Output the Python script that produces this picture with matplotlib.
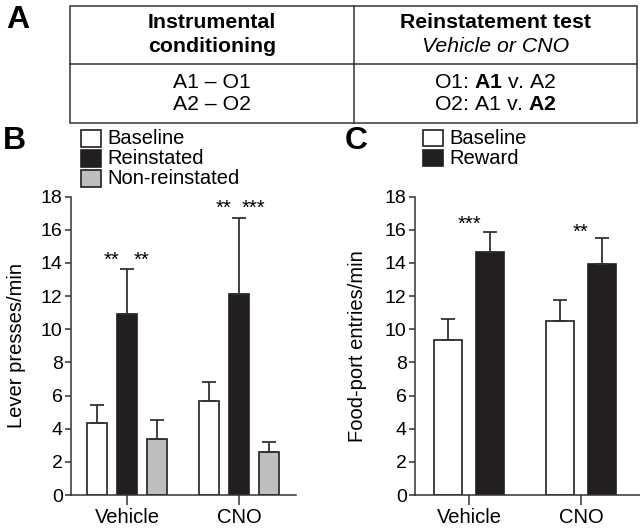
import numpy as np
import matplotlib
matplotlib.use("Agg")
import matplotlib.pyplot as plt
from matplotlib.patches import Rectangle

plt.rcParams['font.family'] = ['Liberation Sans', 'DejaVu Sans']
plt.rcParams['mathtext.fontset'] = 'custom'
plt.rcParams['mathtext.rm'] = 'Liberation Sans'
plt.rcParams['mathtext.bf'] = 'Liberation Sans:bold'

# ---- data ----
groups = ['Vehicle', 'CNO']

b_series = ['Baseline', 'Reinstated', 'Non-reinstated']
b_means = [[4.32, 5.68], [10.94, 12.13], [3.39, 2.57]]
b_sem = [[1.14, 1.11], [2.71, 4.60], [1.13, 0.64]]
b_stars = [('**', 0, -0.134, 14.18), ('**', 0, 0.134, 14.18),
           ('**', 1, -0.134, 17.3), ('***', 1, 0.134, 17.3)]

c_series = ['Baseline', 'Reward']
c_means = [[9.34, 10.48], [14.64, 13.95]]
c_sem = [[1.30, 1.27], [1.22, 1.55]]
c_stars = [('***', 0, 0.0, 16.35), ('**', 1, 0.0, 15.85)]

table_head = [['Instrumental', 'conditioning'], ['Reinstatement test', 'Vehicle or CNO']]
table_body = [['A1 – O1', 'A2 – O2'], [r'O1: $\mathbf{A1}$ v. A2', r'O2: A1 v. $\mathbf{A2}$']]

EDGE = '#231f20'
COLS_B = ['white', '#231f20', '#bcbec0']
COLS_C = ['white', '#231f20']
FS = 14.5
TFS = 15.3

fig = plt.figure(figsize=(6.4, 5.32), dpi=100)


def style_axes(ax, ylabel, xlim, labelpad):
    ax.set_xlim(*xlim)
    ax.set_ylim(0, 18)
    ax.set_yticks(np.arange(0, 19, 2))
    ax.set_xticks(range(len(groups)))
    ax.set_xticklabels(groups, fontsize=FS)
    ax.tick_params(axis='y', labelsize=FS - 0.5, length=4.5, width=1.1, pad=1.5, color='#333333')
    ax.tick_params(axis='x', length=7, width=1.1, pad=2.5, color='#333333')
    for s in ['top', 'right']:
        ax.spines[s].set_visible(False)
    for s in ['left', 'bottom']:
        ax.spines[s].set_linewidth(1.1)
        ax.spines[s].set_color('#333333')
    ax.set_ylabel(ylabel, fontsize=FS, labelpad=labelpad)
    ax.patch.set_alpha(0)


def draw_bars(ax, means, sems, colors, width, offsets):
    x = np.arange(len(groups))
    for i, (m, e) in enumerate(zip(means, sems)):
        xi = x + offsets[i]
        ax.bar(xi, m, width, color=colors[i], edgecolor=EDGE, linewidth=1.2, zorder=2)
        ax.errorbar(xi, m, yerr=[np.zeros(len(m)), e], fmt='none', ecolor='#333333',
                    elinewidth=1.3, capsize=5.2, capthick=1.3, zorder=3)


# panel B
axb = fig.add_axes([71 / 640, 37 / 532, 225 / 640, 298.3 / 532])
draw_bars(axb, b_means, b_sem, COLS_B, 0.18, [-0.268, 0, 0.268])
for s, g, dx, y in b_stars:
    axb.text(g + dx, y, s, ha='center', va='center', fontsize=FS)
style_axes(axb, 'Lever presses/min', (-0.5, 1.51), 11)

# panel C
axc = fig.add_axes([415 / 640, 37 / 532, 225 / 640, 298.3 / 532])
draw_bars(axc, c_means, c_sem, COLS_C, 0.25, [-0.1875, 0.1875])
for s, g, dx, y in c_stars:
    axc.text(g + dx, y, s, ha='center', va='center', fontsize=FS)
style_axes(axc, 'Food-port entries/min', (-0.482, 1.527), 13)

# overlay in pixel coordinates: table, legends, panel letters
ov = fig.add_axes([0, 0, 1, 1])
ov.set_xlim(0, 640)
ov.set_ylim(532, 0)
ov.axis('off')

lc = '#333333'
ov.add_patch(Rectangle((70, 6), 567, 117, fill=False, edgecolor=lc, linewidth=1.1))
ov.plot([354, 354], [6, 123], color=lc, lw=1.1)
ov.plot([70, 637], [64, 64], color=lc, lw=1.1)
colx = [212, 495.5]
ov.text(colx[0], 22, table_head[0][0], ha='center', va='center', fontsize=TFS, fontweight='bold')
ov.text(colx[0], 47, table_head[0][1], ha='center', va='center', fontsize=TFS, fontweight='bold')
ov.text(colx[1], 22, table_head[1][0], ha='center', va='center', fontsize=TFS, fontweight='bold')
ov.text(colx[1], 47, table_head[1][1], ha='center', va='center', fontsize=TFS, style='italic')
for c in range(2):
    for r, yy in enumerate([82, 105]):
        ov.text(colx[c], yy, table_body[c][r], ha='center', va='center', fontsize=TFS)

for lab, x, y in [('A', 18, 20), ('B', 14, 141), ('C', 356, 141)]:
    ov.text(x, y, lab, ha='center', va='center', fontsize=23, fontweight='bold')


def legend(x0, y0, names, colors):
    for i, (n, c) in enumerate(zip(names, colors)):
        yt = y0 + i * 20
        ov.add_patch(Rectangle((x0, yt), 20, 16.5, facecolor=c, edgecolor=EDGE, linewidth=1.2))
        ov.text(x0 + 26, yt + 8.5, n, ha='left', va='center', fontsize=FS)


legend(81, 130, b_series, COLS_B)
legend(423, 129.5, c_series, COLS_C)

fig.savefig('out.png', dpi=100)
